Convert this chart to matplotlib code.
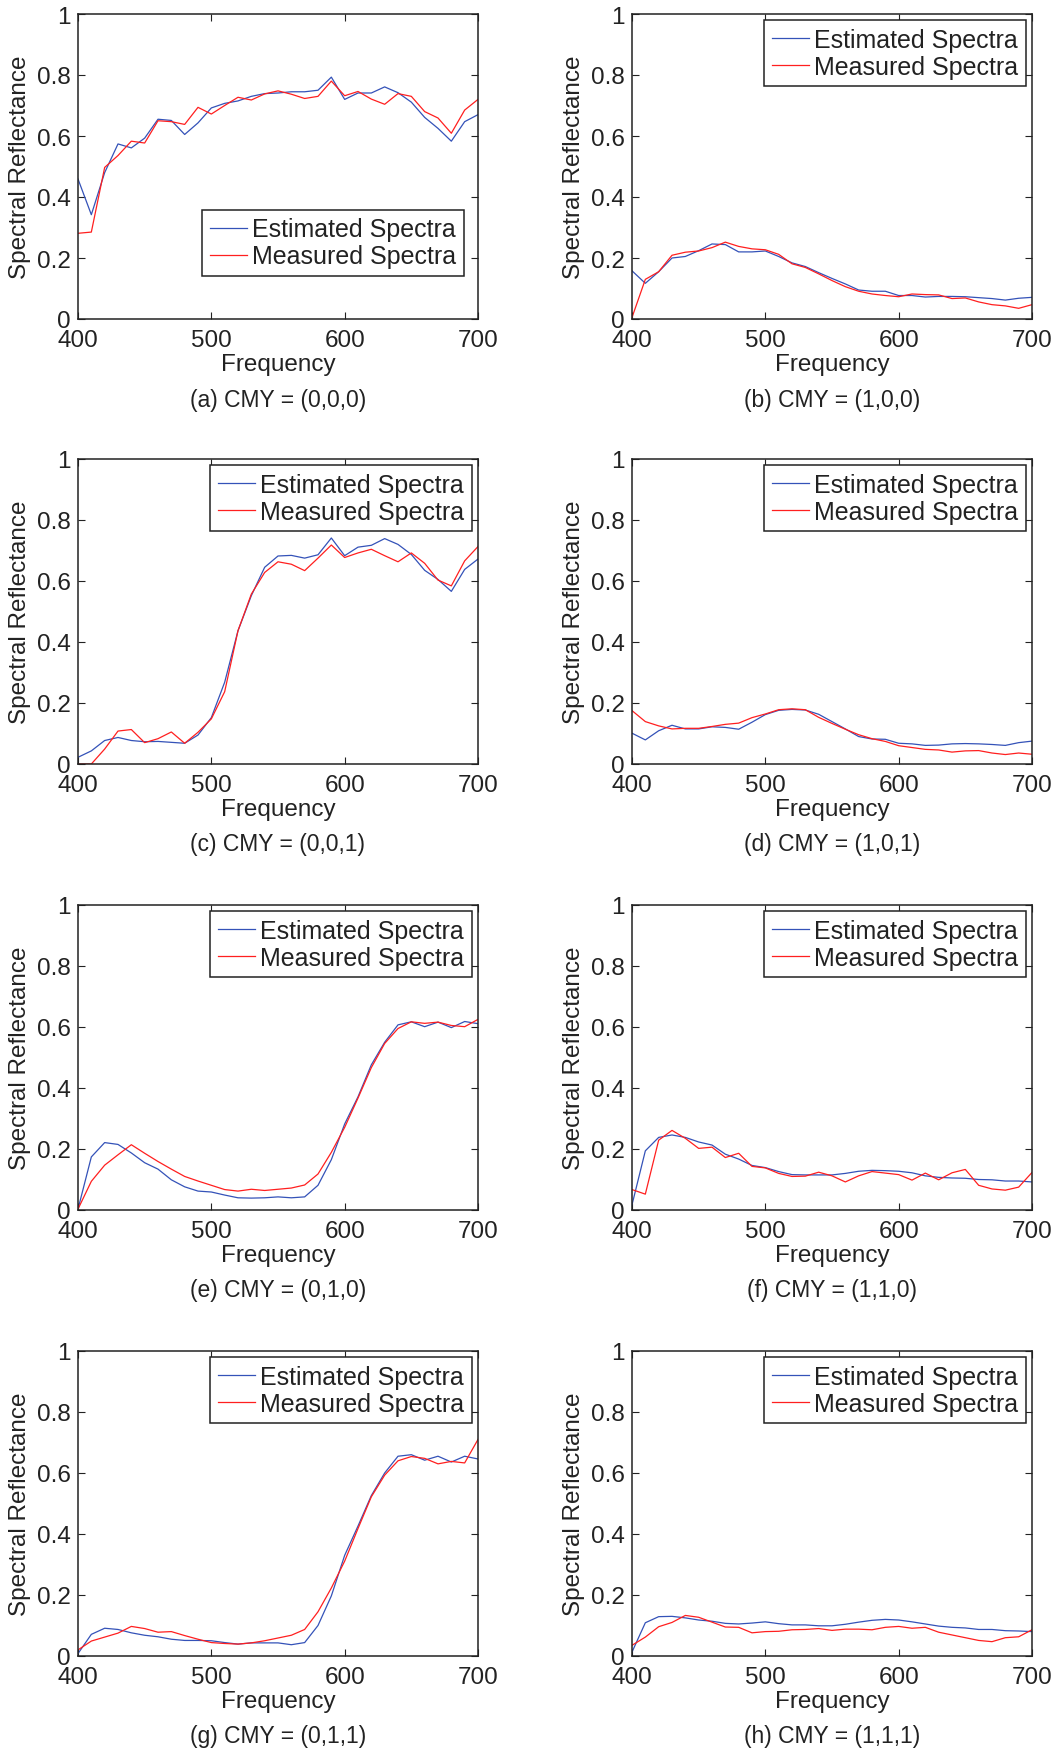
import numpy as np
import matplotlib
matplotlib.use('Agg')
import matplotlib.pyplot as plt

plt.rcParams['font.family'] = ['Liberation Sans', 'DejaVu Sans']

wl = np.arange(400, 701, 10)

captions = ['(a) CMY = (0,0,0)', '(b) CMY = (1,0,0)', '(c) CMY = (0,0,1)', '(d) CMY = (1,0,1)',
            '(e) CMY = (0,1,0)', '(f) CMY = (1,1,0)', '(g) CMY = (0,1,1)', '(h) CMY = (1,1,1)']

est_a = [0.459, 0.342, 0.480, 0.574, 0.561, 0.593, 0.655, 0.651, 0.605, 0.643, 0.692,
         0.707, 0.715, 0.730, 0.739, 0.741, 0.745, 0.745, 0.750, 0.793, 0.720, 0.741,
         0.741, 0.761, 0.742, 0.711, 0.661, 0.625, 0.583, 0.647, 0.670]
meas_a = [0.281, 0.285, 0.497, 0.536, 0.583, 0.577, 0.650, 0.647, 0.638, 0.694, 0.672,
          0.700, 0.727, 0.718, 0.738, 0.748, 0.737, 0.723, 0.730, 0.780, 0.732, 0.746,
          0.721, 0.704, 0.739, 0.730, 0.680, 0.659, 0.609, 0.685, 0.720]

est_b = [0.158, 0.117, 0.155, 0.200, 0.205, 0.224, 0.246, 0.244, 0.220, 0.220, 0.223,
         0.205, 0.184, 0.172, 0.152, 0.133, 0.115, 0.095, 0.091, 0.091, 0.077, 0.077,
         0.072, 0.074, 0.074, 0.073, 0.070, 0.067, 0.062, 0.068, 0.071]
meas_b = [0.005, 0.130, 0.155, 0.209, 0.219, 0.223, 0.234, 0.252, 0.238, 0.230, 0.227,
          0.212, 0.181, 0.169, 0.148, 0.126, 0.106, 0.091, 0.082, 0.077, 0.073, 0.082,
          0.080, 0.079, 0.067, 0.069, 0.056, 0.047, 0.043, 0.035, 0.047]

est_c = [0.022, 0.043, 0.077, 0.087, 0.077, 0.073, 0.074, 0.071, 0.068, 0.095, 0.152,
         0.268, 0.437, 0.552, 0.645, 0.682, 0.684, 0.675, 0.686, 0.741, 0.683, 0.711,
         0.717, 0.739, 0.720, 0.687, 0.635, 0.605, 0.566, 0.638, 0.672]
meas_c = [0.0, 0.0, 0.049, 0.108, 0.113, 0.070, 0.083, 0.105, 0.068, 0.104, 0.148,
          0.237, 0.437, 0.557, 0.628, 0.663, 0.655, 0.634, 0.675, 0.718, 0.677, 0.692,
          0.704, 0.683, 0.663, 0.692, 0.658, 0.603, 0.584, 0.666, 0.713]

est_d = [0.101, 0.079, 0.109, 0.127, 0.115, 0.115, 0.122, 0.120, 0.114, 0.137, 0.162,
         0.176, 0.179, 0.177, 0.163, 0.139, 0.115, 0.090, 0.082, 0.081, 0.068, 0.066,
         0.061, 0.062, 0.066, 0.067, 0.066, 0.064, 0.061, 0.070, 0.075]
meas_d = [0.175, 0.139, 0.125, 0.115, 0.117, 0.117, 0.123, 0.130, 0.134, 0.152, 0.164,
          0.178, 0.181, 0.178, 0.153, 0.133, 0.114, 0.096, 0.083, 0.074, 0.060, 0.054,
          0.048, 0.046, 0.039, 0.043, 0.044, 0.036, 0.031, 0.036, 0.032]

est_e = [0.003, 0.174, 0.221, 0.215, 0.187, 0.155, 0.134, 0.099, 0.076, 0.062, 0.059,
         0.049, 0.040, 0.039, 0.040, 0.043, 0.040, 0.043, 0.081, 0.165, 0.282, 0.371,
         0.476, 0.550, 0.607, 0.617, 0.601, 0.616, 0.598, 0.618, 0.611]
meas_e = [0.003, 0.094, 0.147, 0.181, 0.214, 0.186, 0.159, 0.134, 0.110, 0.095, 0.081,
          0.067, 0.062, 0.068, 0.064, 0.068, 0.072, 0.082, 0.118, 0.189, 0.271, 0.367,
          0.467, 0.546, 0.595, 0.617, 0.612, 0.616, 0.605, 0.601, 0.625]

est_f = [0.017, 0.194, 0.238, 0.246, 0.238, 0.223, 0.213, 0.183, 0.167, 0.146, 0.139,
         0.126, 0.116, 0.115, 0.115, 0.115, 0.120, 0.127, 0.130, 0.129, 0.127, 0.122,
         0.112, 0.107, 0.105, 0.104, 0.100, 0.099, 0.095, 0.095, 0.092]
meas_f = [0.067, 0.052, 0.229, 0.261, 0.235, 0.202, 0.206, 0.172, 0.186, 0.143, 0.138,
          0.120, 0.110, 0.111, 0.124, 0.112, 0.092, 0.112, 0.126, 0.121, 0.116, 0.098,
          0.121, 0.099, 0.122, 0.133, 0.081, 0.069, 0.065, 0.075, 0.123]

est_g = [0.008, 0.071, 0.091, 0.087, 0.076, 0.068, 0.063, 0.055, 0.051, 0.051, 0.050,
         0.044, 0.039, 0.043, 0.043, 0.043, 0.037, 0.044, 0.100, 0.197, 0.330, 0.426,
         0.526, 0.600, 0.655, 0.660, 0.642, 0.655, 0.636, 0.655, 0.646]
meas_g = [0.020, 0.049, 0.062, 0.075, 0.097, 0.090, 0.078, 0.080, 0.067, 0.055, 0.044,
          0.041, 0.039, 0.043, 0.050, 0.059, 0.068, 0.087, 0.145, 0.223, 0.311, 0.418,
          0.522, 0.593, 0.640, 0.654, 0.648, 0.630, 0.638, 0.633, 0.710]

est_h = [0.013, 0.109, 0.129, 0.130, 0.125, 0.118, 0.114, 0.107, 0.105, 0.108, 0.112,
         0.106, 0.102, 0.102, 0.099, 0.099, 0.104, 0.111, 0.117, 0.120, 0.118, 0.112,
         0.105, 0.098, 0.094, 0.092, 0.087, 0.087, 0.083, 0.082, 0.080]
meas_h = [0.035, 0.062, 0.096, 0.110, 0.133, 0.127, 0.111, 0.095, 0.094, 0.076, 0.080,
          0.081, 0.086, 0.087, 0.090, 0.084, 0.088, 0.088, 0.086, 0.094, 0.097, 0.091,
          0.094, 0.078, 0.069, 0.060, 0.051, 0.047, 0.060, 0.063, 0.086]

estimated = [est_a, est_b, est_c, est_d, est_e, est_f, est_g, est_h]
measured = [meas_a, meas_b, meas_c, meas_d, meas_e, meas_f, meas_g, meas_h]

W, H = 1057, 1749
fig = plt.figure(figsize=(W / 100, H / 100), dpi=100)

lefts = [78, 632]
tops = [15, 460, 906, 1352]
aw, ah = 400, 305
fs = 17.5
ink = '#222222'

for i in range(8):
    r, c = i // 2, i % 2
    ax = fig.add_axes([lefts[c] / W, 1 - (tops[r] + ah) / H, aw / W, ah / H])
    ax.plot(wl, estimated[i], color='#3452b8', lw=0.9, label='Estimated Spectra')
    ax.plot(wl, measured[i], color='#ff1f1f', lw=0.9, label='Measured Spectra')
    ax.set_xlim(400, 700)
    ax.set_ylim(0, 1)
    ax.set_xticks([400, 500, 600, 700])
    ax.set_yticks([0, 0.2, 0.4, 0.6, 0.8, 1])
    ax.set_yticklabels(['0', '0.2', '0.4', '0.6', '0.8', '1'])
    ax.tick_params(direction='in', top=True, right=True, length=5, width=0.8,
                   labelsize=fs, colors=ink)
    ax.tick_params(axis='x', pad=7)
    ax.tick_params(axis='y', pad=5)
    for s in ax.spines.values():
        s.set_linewidth(1.1)
        s.set_color(ink)
    ax.set_xlabel('Frequency', fontsize=fs, color=ink)
    ax.xaxis.set_label_coords(0.5, -(365 - 320) / ah)
    ax.xaxis.label.set_va('center')
    ax.set_ylabel('Spectral Reflectance', fontsize=fs, color=ink)
    ax.yaxis.set_label_coords(-(78 - 20) / aw, 0.5)
    ax.yaxis.label.set_va('center')
    ax.text(0.5, -(400 - 320) / ah, captions[i], transform=ax.transAxes,
            ha='center', va='center', fontsize=16.5, color=ink)

    opts = dict(fontsize=18, borderaxespad=0, fancybox=False, framealpha=1,
                edgecolor=ink, borderpad=0.3, labelspacing=0.12,
                handlelength=1.5, handletextpad=0.2, labelcolor=ink)
    if i == 0:
        leg = ax.legend(loc='lower right', bbox_to_anchor=(0.965, 0.141), **opts)
    else:
        leg = ax.legend(loc='upper right', bbox_to_anchor=(0.985, 0.98), **opts)
    leg.get_frame().set_linewidth(1.1)

fig.savefig('out.png', dpi=100)
